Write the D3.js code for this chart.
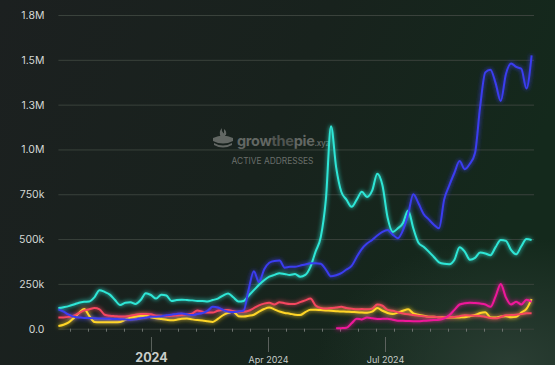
<!DOCTYPE html>
<html><head><meta charset="utf-8">
<script src="https://cdn.jsdelivr.net/npm/d3@7"></script>
<style>
html,body{margin:0;padding:0;background:#1b1f1f;overflow:hidden}
svg{display:block}
</style></head><body>
<svg id="c" width="555" height="365"></svg>
<script>
// ---- data (daily active addresses, thousands) ----
const dates = ["2023-10-21","2023-10-25","2023-10-29","2023-11-02","2023-11-06","2023-11-10","2023-11-14","2023-11-18","2023-11-22","2023-11-26",
"2023-11-30","2023-12-04","2023-12-08","2023-12-12","2023-12-16","2023-12-20","2023-12-24","2023-12-28","2024-01-01","2024-01-05",
"2024-01-09","2024-01-13","2024-01-17","2024-01-21","2024-01-25","2024-01-29","2024-02-02","2024-02-06","2024-02-10","2024-02-14",
"2024-02-18","2024-02-22","2024-02-26","2024-03-01","2024-03-05","2024-03-09","2024-03-13","2024-03-17","2024-03-21","2024-03-25",
"2024-03-29","2024-04-02","2024-04-06","2024-04-10","2024-04-14","2024-04-18","2024-04-22","2024-04-26","2024-04-30","2024-05-04",
"2024-05-08","2024-05-12","2024-05-16","2024-05-20","2024-05-24","2024-05-28","2024-06-01","2024-06-05","2024-06-09","2024-06-13",
"2024-06-17","2024-06-21","2024-06-25","2024-06-29","2024-07-03","2024-07-07","2024-07-11","2024-07-15","2024-07-19","2024-07-23",
"2024-07-27","2024-07-31","2024-08-04","2024-08-08","2024-08-12","2024-08-16","2024-08-20","2024-08-24","2024-08-28","2024-09-01",
"2024-09-05","2024-09-09","2024-09-13","2024-09-17","2024-09-21","2024-09-25","2024-09-29","2024-10-03","2024-10-07","2024-10-11",
"2024-10-15","2024-10-19","2024-10-23"];

const cyanSeries = [115,120,126,135,145,150,152,175,215,205,
190,160,132,145,148,138,160,198,188,168,
190,185,155,160,162,160,158,155,155,152,
160,168,185,197,175,152,155,185,215,245,
270,290,300,310,305,300,305,290,300,345,
430,510,720,1130,900,764,720,680,720,764,
735,770,865,800,620,540,560,590,660,560,
480,457,430,400,370,362,360,385,455,430,
385,395,425,420,410,455,495,490,440,415,
460,500,495];

const blueSeries = [108,95,78,67,63,60,60,58,57,56,
55,54,53,52,50,52,58,63,67,67,
70,75,78,82,85,80,76,82,88,100,
122,118,105,95,93,96,100,220,320,260,
330,368,378,380,340,345,345,352,358,365,
365,362,330,292,298,310,330,350,400,445,
475,495,520,540,550,525,505,550,640,750,
700,640,610,580,560,720,800,870,935,890,
920,980,1240,1430,1445,1370,1270,1420,1480,1460,
1450,1340,1525];

const redSeries = [62,63,66,72,88,102,108,115,108,78,
72,70,68,68,72,78,82,82,80,72,
72,71,72,74,76,80,84,102,95,90,
90,100,104,104,98,95,95,100,115,130,
140,145,135,148,142,138,138,148,158,168,
130,115,112,115,118,122,115,112,108,110,
108,112,135,128,105,100,92,85,80,76,
72,70,67,66,64,63,63,65,70,75,
74,72,71,66,60,58,65,75,76,78,
82,86,86];

const yellowSeries = [15,22,35,60,88,110,72,38,36,36,
36,36,38,50,62,68,72,72,64,58,
54,50,47,50,56,57,52,48,46,42,
38,55,75,88,95,70,68,72,78,95,
110,118,108,96,88,84,78,76,92,106,
106,104,102,100,98,96,95,93,92,90,
89,95,115,100,88,82,90,100,108,86,
78,72,67,66,64,63,62,62,63,64,
70,76,88,92,63,62,68,70,64,66,
90,110,165];

const magentaSeries = [null,null,null,null,null,null,null,null,null,null,
null,null,null,null,null,null,null,null,null,null,
null,null,null,null,null,null,null,null,null,null,
null,null,null,null,null,null,null,null,null,null,
null,null,null,null,null,null,null,null,null,null,
null,null,null,null,2,3,5,30,55,52,
62,58,54,55,56,50,45,44,43,42,
42,44,46,48,50,58,75,105,135,142,
145,143,140,135,122,180,250,175,135,150,
135,162,150];

const seriesOrder = ["yellow","red","magenta","cyan","blue"];
const seriesColors = {cyan:"#2fe6d6", blue:"#3b3cf0", red:"#f5465f", yellow:"#ffd526", magenta:"#f0189a"};
const seriesValues = {cyan:cyanSeries, blue:blueSeries, red:redSeries, yellow:yellowSeries, magenta:magentaSeries};

const yTicks = [0,250,500,750,1000,1250,1500,1750];
const yTickLabels = ["0.0","250k","500k","750k","1.0M","1.3M","1.5M","1.8M"];
const xMajorTicks = ["2024-01-01","2024-04-01","2024-07-01"];
const xMajorLabels = ["2024","Apr 2024","Jul 2024"];

// ---- drawing ----
const W = 555, H = 365;
const svg = d3.select("#c");
const parse = d3.utcParse("%Y-%m-%d");
const dts = dates.map(parse);

const defs = svg.append("defs");
const bg = defs.append("linearGradient").attr("id","bg").attr("x1","0").attr("y1","0").attr("x2","1").attr("y2","0.3");
bg.append("stop").attr("offset","0").attr("stop-color","#1c2020");
bg.append("stop").attr("offset","0.55").attr("stop-color","#18221d");
bg.append("stop").attr("offset","1").attr("stop-color","#14291c");
const rg = defs.append("radialGradient").attr("id","rg").attr("cx","0.92").attr("cy","1.0").attr("r","0.35");
rg.append("stop").attr("offset","0").attr("stop-color","#34463d").attr("stop-opacity",0.7);
rg.append("stop").attr("offset","1").attr("stop-color","#34463d").attr("stop-opacity",0);
const glow = defs.append("filter").attr("id","glow").attr("filterUnits","userSpaceOnUse")
  .attr("x",0).attr("y",0).attr("width",W).attr("height",H);
glow.append("feGaussianBlur").attr("in","SourceGraphic").attr("stdDeviation",2.2).attr("result","b");
const fm = glow.append("feMerge");
fm.append("feMergeNode").attr("in","b");
fm.append("feMergeNode").attr("in","SourceGraphic");

svg.append("rect").attr("width",W).attr("height",H).attr("fill","url(#bg)");
svg.append("rect").attr("width",W).attr("height",H).attr("fill","url(#rg)");

const x = d3.scaleUtc().domain([dts[0], dts[dts.length-1]]).range([58.4, 531.6]);
const y = d3.scaleLinear().domain([0,1750]).range([328.7, 15]);

// y axis + grid
const yAxis = d3.axisLeft(y).tickValues(yTicks).tickFormat((d,i)=>yTickLabels[i])
  .tickSize(-(534-58.4)).tickPadding(14);
const gy = svg.append("g").attr("transform","translate(58.4,0)").call(yAxis);
gy.select(".domain").remove();
gy.selectAll(".tick line").attr("stroke","#3a423c").attr("stroke-width",1);
gy.selectAll(".tick text").attr("fill","#d4d8d5").attr("font-family","Inter, 'Open Sans', sans-serif")
  .attr("font-size","10.5px").attr("dx","0");

// small x ticks (biweekly)
const smallTicks = d3.range(-11, 15).map(k => d3.utcDay.offset(parse("2024-04-01"), 14*k))
  .filter(d => d >= dts[0] && d <= dts[dts.length-1]);
const gxs = svg.append("g").attr("transform","translate(0,328.7)")
  .call(d3.axisBottom(x).tickValues(smallTicks).tickSize(3).tickFormat(""));
gxs.select(".domain").remove();
gxs.selectAll(".tick line").attr("stroke","#6d736f").attr("stroke-width",1);

// major x ticks
const majors = xMajorTicks.map(parse);
const gxm = svg.append("g").attr("transform","translate(0,337)")
  .call(d3.axisBottom(x).tickValues(majors).tickSize(15).tickPadding(0)
    .tickFormat((d,i)=>xMajorLabels[i]));
gxm.select(".domain").remove();
gxm.selectAll(".tick line").attr("stroke","#5c625e").attr("stroke-width",1);
gxm.selectAll(".tick text").attr("fill","#c9cdca").attr("font-family","Inter, 'Open Sans', sans-serif")
  .attr("font-size",(d,i)=> i===0 ? "12.5px" : "9px")
  .attr("font-weight",(d,i)=> i===0 ? 700 : 400)
  .attr("y",(d,i)=> i===0 ? 24.5 : 25.5).attr("dy","0");

// watermark
const wm = svg.append("g").attr("fill","#626763");
const icon = wm.append("g").attr("transform","translate(212,126)");
icon.append("path").attr("d","M1,12 Q11,7 21,12 L21,15 Q11,20 1,15 Z");
icon.append("path").attr("d","M2,17 Q11,22 20,17 L20,19 Q11,24 2,19 Z");
icon.append("path").attr("d","M9,11 Q6,6 10,2 Q9,6 13,8 Q14,10 12,11 Z");
icon.append("path").attr("d","M12,3 Q15,5 14,9 L12,9 Z");
const wt = wm.append("text").attr("x",237).attr("y",146).attr("font-family","Inter, 'Open Sans', sans-serif")
  .attr("font-weight",700).attr("font-size","14.5px").attr("letter-spacing","-0.3px");
wt.append("tspan").text("grow");
wt.append("tspan").attr("fill","#4f5450").text("the");
wt.append("tspan").text("pie");
wt.append("tspan").attr("font-size","8px").attr("font-weight",600).text(".xyz");
wm.append("text").attr("x",272.5).attr("y",164).attr("text-anchor","middle")
  .attr("font-family","Inter, 'Open Sans', sans-serif").attr("font-size","8.4px").attr("fill","#6a6f6b")
  .text("ACTIVE ADDRESSES");

// lines
const line = d3.line().defined(d => d[1] != null)
  .x(d => x(d[0])).y(d => y(d[1])).curve(d3.curveMonotoneX);
const gl = svg.append("g").attr("filter","url(#glow)");
seriesOrder.forEach(k => {
  const pts = dts.map((d,i)=>[d, seriesValues[k][i]]);
  gl.append("path").datum(pts).attr("d", line).attr("fill","none")
    .attr("stroke", seriesColors[k]).attr("stroke-width", 2).attr("stroke-linejoin","round");
});
</script>
</body></html>
